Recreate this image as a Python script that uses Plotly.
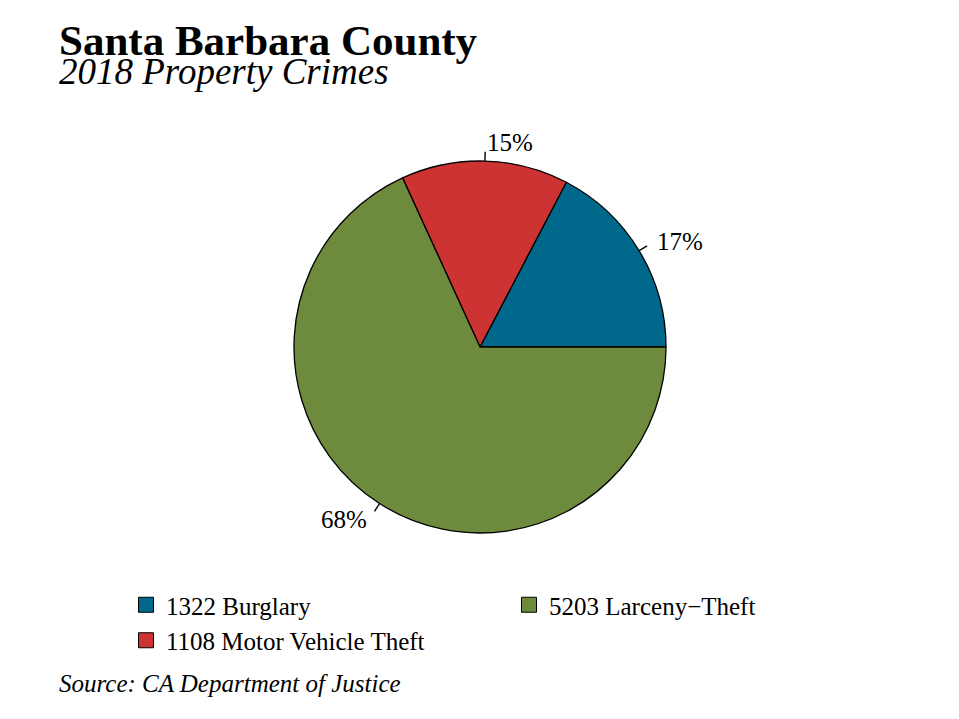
import math
import plotly.graph_objects as go

# ---- data ----
categories = ["Burglary", "Motor Vehicle Theft", "Larceny\u2212Theft"]
counts = [1322, 1108, 5203]
colors = ["#00688B", "#CD3333", "#6E8B3D"]
legend_order = [0, 2, 1]  # two-column legend filled column-wise

title = "Santa Barbara County"
subtitle = "2018 Property Crimes"
source = "Source: CA Department of Justice"

W, H = 959, 719
FONT = "Liberation Serif"
cx, cy, R = 480, 347, 186  # pie centre / radius in pixels

total = sum(counts)

fig = go.Figure()
fig.add_trace(go.Pie(
    labels=categories, values=counts, sort=False,
    direction="counterclockwise",
    rotation=90 - 360 * counts[0] / total,  # first slice starts at 3 o'clock
    marker=dict(colors=colors, line=dict(color="black", width=1.3)),
    textinfo="none", showlegend=False, hoverinfo="label+value+percent",
    domain=dict(x=[(cx - R) / W, (cx + R) / W], y=[1 - (cy + R) / H, 1 - (cy - R) / H]),
))

# legend entries
for i in legend_order:
    fig.add_trace(go.Scatter(
        x=[None], y=[None], mode="markers",
        name=f"{counts[i]} {categories[i]}",
        marker=dict(symbol="square", size=15, color=colors[i], line=dict(color="black", width=1)),
    ))

# percentage labels with tick marks
start = 0.0
annotations = []
shapes = []
for v in counts:
    frac = v / total
    mid = (start + frac / 2) * 2 * math.pi
    start += frac
    c, s = math.cos(mid), math.sin(mid)
    x0, y0 = cx + R * c, cy - R * s
    x1, y1 = cx + 1.05 * R * c, cy - 1.05 * R * s
    xl, yl = cx + 1.1 * R * c, cy - 1.1 * R * s
    shapes.append(dict(type="line", xref="paper", yref="paper",
                       x0=x0 / W, y0=1 - y0 / H, x1=x1 / W, y1=1 - y1 / H,
                       line=dict(color="black", width=1.4)))
    annotations.append(dict(xref="paper", yref="paper", x=xl / W, y=1 - yl / H,
                            text=f"{round(frac * 100)}%", showarrow=False,
                            xanchor="left" if c > 0 else "right", yanchor="middle",
                            font=dict(family=FONT, size=25, color="black")))

annotations += [
    dict(xref="paper", yref="paper", x=57 / W, y=1 - 55 / H,
         text=(f"<span style='font-size:43px'><b>{title}</b></span><br>"
               f"<span style='font-size:37px'><i>{subtitle}</i></span>"),
         showarrow=False, xanchor="left", yanchor="middle", align="left",
         font=dict(family=FONT, size=22, color="black")),
    dict(xref="paper", yref="paper", x=57 / W, y=1 - 683 / H, text=f"<i>{source}</i>",
         showarrow=False, xanchor="left", yanchor="middle",
         font=dict(family=FONT, size=25, color="black")),
]

fig.update_layout(
    width=W, height=H, margin=dict(l=0, r=0, t=0, b=0, autoexpand=False),
    paper_bgcolor="white", plot_bgcolor="white",
    xaxis=dict(visible=False), yaxis=dict(visible=False),
    annotations=annotations, shapes=shapes,
    legend=dict(orientation="h", x=126 / W, y=1 - 582 / H, xanchor="left", yanchor="top",
                entrywidth=338, entrywidthmode="pixels",
                font=dict(family=FONT, size=25, color="black"), bgcolor="rgba(0,0,0,0)"),
)

fig.write_html("out.html", config={"displayModeBar": False},
               post_script="document.body.style.margin='0';document.body.style.overflow='hidden';")
